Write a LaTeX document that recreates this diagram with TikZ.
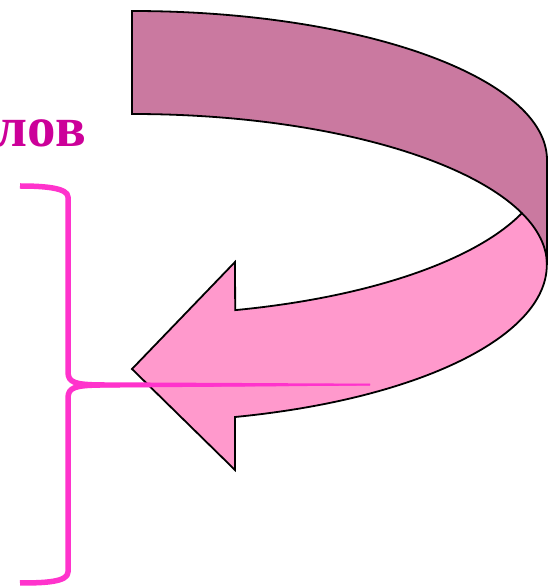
\documentclass[tikz,border=0pt]{standalone}
\usepackage{fontspec}
\setmainfont{Liberation Serif}
\definecolor{mauve}{HTML}{CA79A0}
\definecolor{pinkfill}{HTML}{FF99CC}
\definecolor{bracecol}{HTML}{FF33CC}
\definecolor{textcol}{HTML}{CC0099}
\begin{document}
\begin{tikzpicture}[x=1pt,y=1pt,
  band/.style={draw=black,line width=1.8pt,line join=miter},
  bracestyle/.style={draw=bracecol,line width=5.5pt,line cap=butt,line join=round}]
\useasboundingbox (0,0) rectangle (548,587);
% lower (pink) part with arrow head
\path[band,fill=pinkfill] (547,427)
  arc[start angle=0,end angle=-75.6,x radius=415,y radius=155]
  -- (235,325) -- (132,218) -- (235,117) -- (235,170)
  arc[start angle=-75.6,end angle=0,x radius=415,y radius=157]
  -- cycle;
% upper (mauve) band
\path[band,fill=mauve] (132,576)
  arc[start angle=90,end angle=0,x radius=415,y radius=149]
  -- (547,322)
  arc[start angle=0,end angle=90,x radius=415,y radius=151]
  -- cycle;
% brace
\coordinate (bt) at (20,401);
\coordinate (bb) at (20,4);
\coordinate (tip) at (100,202);
\coordinate (tipend) at (370,202.5);
\draw[bracestyle] (bt) .. controls (45,401) and (68,399) .. (68,390)
  -- (68,215) .. controls (68,204) and (76,202.5) .. (tip);
\draw[bracestyle] (tip) .. controls (76,201.5) and (68,200) .. (68,189)
  -- (68,15) .. controls (68,5) and (45,4) .. (bb);
\fill[bracecol] (80,205) -- (tip) -- (370,203.2) -- (370,201.6) -- (100,199.6) -- (80,199.2) -- cycle;
\fill[bracecol] (95,204.8) -- (370,203.3) -- (370,201.5) -- (95,199.3) -- cycle;
% text
\node[anchor=base east,inner sep=0pt,text=textcol,font=\bfseries\fontsize{57}{57}\selectfont] (word) at (86,440) {лов};
\end{tikzpicture}
\end{document}
